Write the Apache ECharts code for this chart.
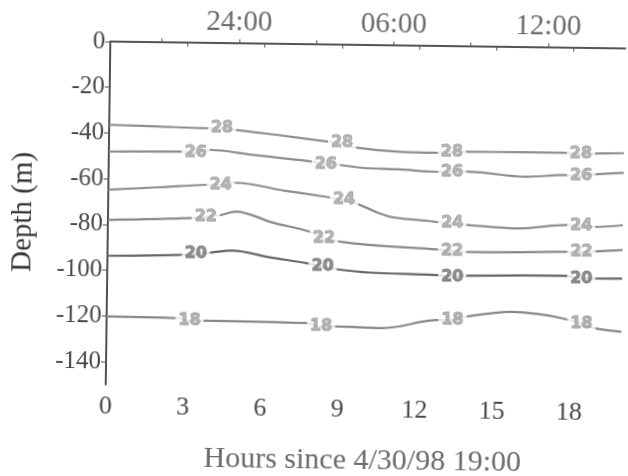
<!DOCTYPE html>
<html><head><meta charset="utf-8">
<script src="https://cdn.jsdelivr.net/npm/echarts@6/dist/echarts.min.js"></script>
<style>
html,body{margin:0;padding:0;background:#fff;}
#chart{width:628px;height:476px;transform:rotate(0.77deg);transform-origin:366px 217px;}
</style>
</head><body><div id="chart"></div>
<script>
// Axis ticks
const xTicks = [0, 3, 6, 9, 12, 15, 18];
const yTicks = [0, -20, -40, -60, -80, -100, -120, -140];
const topTickHours = [2, 5, 8, 11, 14, 17];
const topLabelHours = [5, 11, 17];
const topLabelTexts = ['24:00', '06:00', '12:00'];

// Contour levels
const levels = [28, 26, 24, 22, 20, 18];

// Contour lines [hour, depth]
const contour28 = [[0,-36.4],[2,-36.9],[3.9,-37.3],[4.4,-37.1],[4.9,-37.9],[6.5,-39.8],[8.5,-42.5],[9.05,-43.0],[9.5,-44.8],[11.3,-46.5],[12.7,-46.7],[13.3,-46.2],[14,-46.1],[16,-46.0],[17.75,-46.0],[18.3,-46.4],[19,-46.1],[20,-45.8]];
const contour26 = [[0,-48.1],[2.8,-47.7],[3.37,-48.1],[3.95,-46.8],[5.5,-48.6],[7.9,-51.3],[8.43,-52.3],[8.94,-52.6],[9.9,-53.8],[11.3,-54.2],[12.7,-55.0],[13.34,-54.9],[14,-54.8],[16.2,-56.7],[17.7,-55.7],[18.35,-56.0],[18.9,-55.2],[20,-54.4]];
const contour24 = [[0,-64.8],[2,-63.4],[3.78,-62.1],[4.36,-62.0],[4.94,-61.0],[6.8,-64.1],[8.57,-66.8],[9.16,-67.9],[9.74,-69.8],[10.52,-73.5],[11.04,-75.2],[12.73,-76.9],[13.37,-77.5],[13.96,-78.1],[15.97,-79.3],[17.78,-77.6],[18.38,-77.6],[18.9,-78.2],[20,-77.3]];
const contour22 = [[0,-78.0],[3.28,-76.7],[3.8,-76.0],[4.38,-75.2],[4.96,-73.6],[6.4,-78.2],[7.82,-81.9],[8.4,-84.7],[8.99,-86.1],[10.16,-87.4],[12.75,-88.9],[13.38,-89.5],[13.97,-89.9],[17.73,-89.3],[18.4,-89.2],[20,-88.2]];
const contour20 = [[0,-93.7],[2.85,-92.9],[3.43,-92.3],[4.01,-91.7],[4.85,-90.7],[6.3,-93.4],[7.77,-95.8],[8.36,-97.2],[8.94,-98.3],[10.17,-99.5],[12.77,-100.2],[13.4,-100.8],[13.98,-100.3],[17.75,-99.8],[18.41,-100.8],[20,-100.6]];
const contour18 = [[0,-120.2],[2.82,-120.6],[3.22,-121.6],[3.93,-121.5],[7.75,-122.0],[8.33,-123.4],[8.91,-123.3],[10.71,-123.7],[12.79,-119.9],[13.43,-119.8],[13.96,-118.2],[15.76,-115.8],[16.8,-116.7],[17.71,-118.4],[18.44,-120.5],[19.0,-122.6],[20,-123.9]];

// Inline contour label positions [hour, depth]
const labels28 = [[4.38,-37.1],[9.05,-43.0],[13.32,-46.2],[18.33,-46.4]];
const labels26 = [[3.37,-48.1],[8.43,-52.3],[13.34,-54.9],[18.35,-56.0]];
const labels24 = [[4.36,-62.0],[9.16,-67.9],[13.37,-77.5],[18.38,-77.6]];
const labels22 = [[3.8,-76.0],[8.4,-84.7],[13.38,-89.5],[18.4,-89.2]];
const labels20 = [[3.43,-92.3],[8.36,-97.2],[13.4,-100.8],[18.41,-100.8]];
const labels18 = [[3.22,-121.6],[8.33,-123.4],[13.43,-119.8],[18.44,-120.5]];

const contours = [contour28, contour26, contour24, contour22, contour20, contour18];
const contourLabels = [labels28, labels26, labels24, labels22, labels20, labels18];

const lineColors = ['#8e8e8e', '#8c8c8c', '#8e8e8e', '#8a8a8a', '#666666', '#888888'];
const textFill = ['#a8a8a8', '#a6a6a6', '#a8a8a8', '#a4a4a4', '#757575', '#a2a2a2'];
const textStroke = ['#808080', '#7e7e7e', '#808080', '#7c7c7c', '#555555', '#7a7a7a'];

const series = [];
levels.forEach((lv, i) => {
  series.push({
    type: 'line', data: contours[i], smooth: 0.35, symbol: 'none',
    lineStyle: { color: lineColors[i], width: 2.2 }, z: 2, silent: true
  });
});
levels.forEach((lv, i) => {
  series.push({
    type: 'scatter', data: contourLabels[i], symbolSize: 1,
    itemStyle: { color: 'rgba(0,0,0,0)' }, z: 5, silent: true,
    label: {
      show: true, position: 'inside', formatter: String(lv),
      fontFamily: 'DejaVu Sans', fontWeight: 'bold', fontSize: 16,
      color: textFill[i], textBorderColor: textStroke[i], textBorderWidth: 0.8,
      backgroundColor: '#fff', padding: [1, 3]
    }
  });
});

const axisLineStyle = { color: '#4a4a4a', width: 1.6 };
const serif = 'Liberation Serif';

const option = {
  animation: false,
  backgroundColor: '#fff',
  grid: { left: 108, right: 5, top: 45, bottom: 88, containLabel: false, outerBoundsMode: 'none' },
  xAxis: [{
    type: 'value', position: 'bottom', min: 0, max: 20,
    axisLine: { show: true, lineStyle: axisLineStyle },
    axisTick: { show: true, customValues: xTicks, length: 4, lineStyle: { color: '#555' } },
    axisLabel: { customValues: xTicks, margin: 9, fontFamily: serif, fontSize: 26, color: '#484848' },
    splitLine: { show: false },
    name: 'Hours since 4/30/98 19:00', nameLocation: 'middle', nameGap: 58,
    nameTextStyle: { fontFamily: serif, fontSize: 30, color: '#6a6a6a' }
  }, {
    type: 'value', position: 'top', min: 0, max: 20,
    axisLine: { show: true, lineStyle: axisLineStyle },
    axisTick: { show: true, customValues: topTickHours, length: 4, lineStyle: { color: '#555' } },
    axisLabel: {
      customValues: topLabelHours, margin: 6, fontFamily: serif, fontSize: 29, color: '#6a6a6a',
      formatter: v => topLabelTexts[topLabelHours.indexOf(v)] || ''
    },
    splitLine: { show: false }
  }],
  yAxis: [{
    type: 'value', position: 'left', min: -150, max: 0,
    axisLine: { show: true, lineStyle: axisLineStyle },
    axisTick: { show: true, customValues: yTicks, length: 5, lineStyle: { color: '#555' } },
    axisLabel: { customValues: yTicks, margin: 5, fontFamily: serif, fontSize: 25, color: '#484848' },
    splitLine: { show: false },
    name: 'Depth (m)', nameLocation: 'middle', nameRotate: 90, nameGap: 70,
    nameTextStyle: { fontFamily: serif, fontSize: 29, color: '#333333' }
  }, {
    type: 'value', position: 'right', min: -150, max: 0,
    axisLine: { show: true, lineStyle: axisLineStyle },
    axisTick: { show: true, inside: true, customValues: yTicks, length: 4, lineStyle: { color: '#555' } },
    axisLabel: { show: false },
    splitLine: { show: false }
  }],
  series: series
};

const chart = echarts.init(document.getElementById('chart'), null, { renderer: 'canvas' });
chart.setOption(option);
</script>
</body></html>
